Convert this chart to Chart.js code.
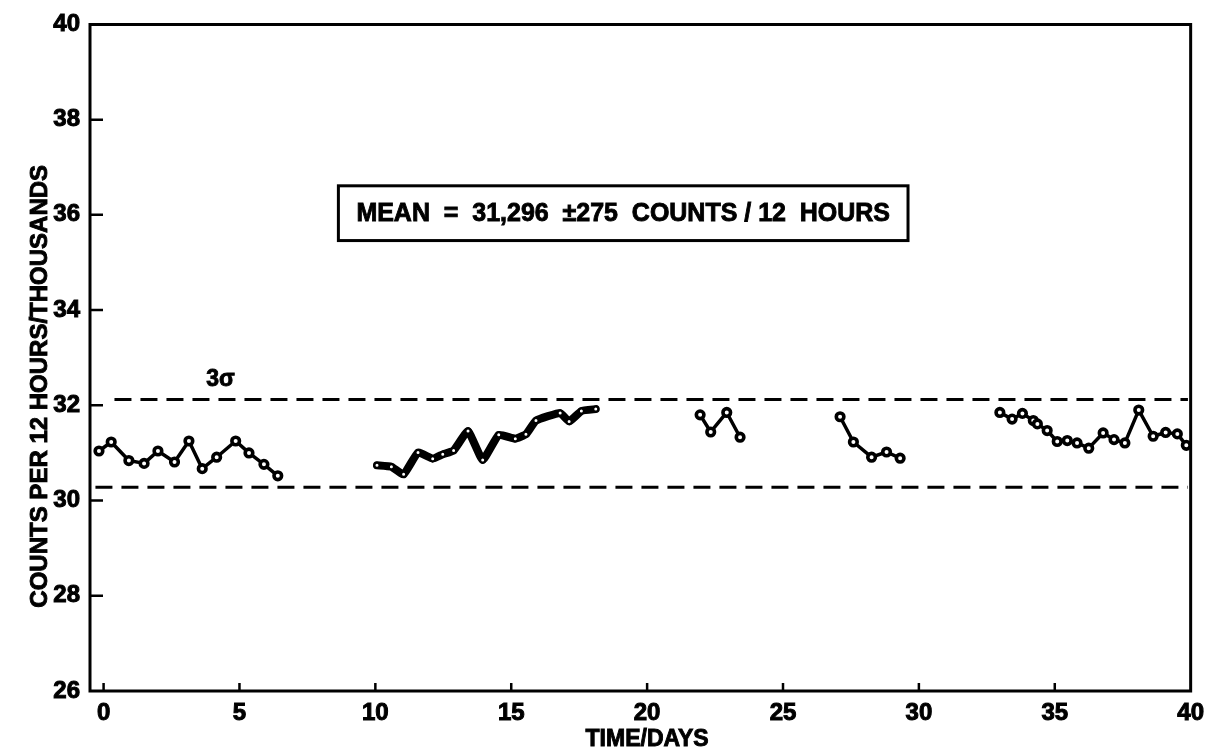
<!DOCTYPE html>
<html>
<head>
<meta charset="utf-8">
<title>Counts per 12 hours</title>
<script src="https://cdn.jsdelivr.net/npm/chart.js@4.4.1/dist/chart.umd.min.js"></script>
<style>
  html, body { margin: 0; padding: 0; background: #fff; }
  #wrap { position: relative; width: 1212px; height: 754px; }
</style>
</head>
<body>
<div id="wrap"><canvas id="chart1"></canvas></div>
<script>
// readings, one point per 12 hours (thousands of counts)
var seg1Days   = [-0.17, 0.28, 0.93, 1.49, 2.0, 2.61, 3.14, 3.63, 4.16, 4.86, 5.35, 5.9, 6.41];
var seg1Counts = [31.04, 31.23, 30.84, 30.78, 31.04, 30.81, 31.25, 30.67, 30.91, 31.25, 31.00, 30.76, 30.52];

var seg2Days   = [10.06, 10.59, 11.04, 11.57, 12.11, 12.48, 12.88, 13.41, 13.95, 14.54, 15.15, 15.54, 15.91, 16.8, 17.13, 17.58, 18.11];
var seg2Counts = [30.74, 30.71, 30.55, 31.01, 30.88, 30.97, 31.05, 31.46, 30.85, 31.38, 31.30, 31.39, 31.68, 31.84, 31.66, 31.88, 31.92];

var seg3Days   = [21.95, 22.34, 22.93, 23.42];
var seg3Counts = [31.80, 31.44, 31.85, 31.33];

var seg4Days   = [27.10, 27.59, 28.26, 28.81, 29.31];
var seg4Counts = [31.76, 31.23, 30.91, 31.02, 30.89];

var seg5Days   = [32.98, 33.43, 33.81, 34.21, 34.36, 34.72, 35.09, 35.46, 35.82, 36.25, 36.78, 37.18, 37.58, 38.09, 38.62, 39.08, 39.51, 39.84];
var seg5Counts = [31.85, 31.71, 31.83, 31.68, 31.61, 31.47, 31.24, 31.26, 31.21, 31.10, 31.42, 31.28, 31.21, 31.90, 31.35, 31.43, 31.40, 31.16];

// 3 sigma control limits
var upperLimit = 32.12;
var lowerLimit = 30.28;
var upperDays  = [0.4, 39.9];
var lowerDays  = [-0.3, 39.9];

var xTicks = [0, 5, 10, 15, 20, 25, 30, 35, 40];
var yTicks = [26, 28, 30, 32, 34, 36, 38, 40];

var xTitle = 'TIME/DAYS';
var yTitle = 'COUNTS PER 12 HOURS/THOUSANDS';
var meanText = 'MEAN  =  31,296  \u00b1275  COUNTS / 12  HOURS';
var noteBox = {x0: 8.64, x1: 29.6, yTop: 36.61, yBottom: 35.46};
var sigmaNote = {x: 4.3, y: 32.54, text: '3\u03c3'};

var FONT = "'Liberation Sans', Arial, Helvetica, sans-serif";

function pts(xs, ys) {
  var out = [];
  for (var i = 0; i < xs.length; i++) out.push({x: xs[i], y: ys[i]});
  return out;
}

function seg(xs, ys, thick) {
  return {
    data: pts(xs, ys),
    borderColor: '#000',
    borderWidth: thick ? 8 : 3.5,
    tension: thick ? 0.12 : 0,
    borderJoinStyle: 'round',
    borderCapStyle: 'round',
    pointRadius: thick ? 2.5 : 3.8,
    pointBorderWidth: thick ? 2 : 3.6,
    pointBackgroundColor: '#fff',
    pointBorderColor: '#000'
  };
}

function limit(xs, y) {
  return {
    data: pts(xs, [y, y]),
    borderColor: '#000',
    borderWidth: 3,
    borderDash: [17, 9],
    pointRadius: 0,
    tension: 0
  };
}

// draw text slightly heavier, like the old lettering
function heavyText(ctx, text, x, y) {
  ctx.fillText(text, x, y);
  ctx.lineWidth = 0.9;
  ctx.strokeText(text, x, y);
}

var frameAndNotes = {
  id: 'frameAndNotes',
  afterDraw: function(chart) {
    var ctx = chart.ctx, a = chart.chartArea;
    var xs = chart.scales.x, ys = chart.scales.y;
    ctx.save();
    ctx.strokeStyle = '#000';
    ctx.fillStyle = '#000';

    // frame
    ctx.lineWidth = 3;
    ctx.beginPath();
    ctx.rect(a.left, a.top, a.right - a.left, a.bottom - a.top);
    ctx.stroke();

    // inward tick marks
    ctx.lineWidth = 2.5;
    ctx.beginPath();
    xTicks.forEach(function(v) {
      if (v === 40) return;
      var px = xs.getPixelForValue(v);
      ctx.moveTo(px, a.bottom); ctx.lineTo(px, a.bottom - 8);
    });
    yTicks.forEach(function(v) {
      if (v === 26 || v === 40) return;
      var py = ys.getPixelForValue(v);
      ctx.moveTo(a.left, py); ctx.lineTo(a.left + 13, py);
    });
    ctx.stroke();

    ctx.textAlign = 'center';
    ctx.textBaseline = 'middle';

    // axis titles
    ctx.font = 'bold 23px ' + FONT;
    heavyText(ctx, xTitle, xs.getPixelForValue(20), 740);
    ctx.save();
    ctx.translate(40, ys.getPixelForValue(32.4));
    ctx.rotate(-Math.PI / 2);
    ctx.font = 'bold 24px ' + FONT;
    heavyText(ctx, yTitle, 0, 0);
    ctx.restore();

    // mean box
    var bl = xs.getPixelForValue(noteBox.x0), br = xs.getPixelForValue(noteBox.x1);
    var bt = ys.getPixelForValue(noteBox.yTop), bb = ys.getPixelForValue(noteBox.yBottom);
    ctx.lineWidth = 3;
    ctx.strokeRect(bl, bt, br - bl, bb - bt);
    ctx.font = 'bold 26px ' + FONT;
    var want = (br - bl) - 36;
    var got = ctx.measureText(meanText).width;
    ctx.save();
    ctx.translate((bl + br) / 2, (bt + bb) / 2 + 1);
    ctx.scale(want / got, 1);
    heavyText(ctx, meanText, 0, 0);
    ctx.restore();

    // 3 sigma label
    ctx.font = 'bold 23px ' + FONT;
    heavyText(ctx, sigmaNote.text, xs.getPixelForValue(sigmaNote.x), ys.getPixelForValue(sigmaNote.y));
    ctx.restore();
  }
};

var tickFont = {family: FONT, size: 24, weight: 'bold'};

new Chart(document.getElementById('chart1').getContext('2d'), {
  type: 'line',
  data: {
    datasets: [
      seg(seg1Days, seg1Counts, false),
      seg(seg2Days, seg2Counts, true),
      seg(seg3Days, seg3Counts, false),
      seg(seg4Days, seg4Counts, false),
      seg(seg5Days, seg5Counts, false),
      limit(upperDays, upperLimit),
      limit(lowerDays, lowerLimit)
    ]
  },
  options: {
    responsive: true,
    maintainAspectRatio: false,
    animation: false,
    layout: {padding: {left: 8, right: 20, top: 21, bottom: 0}},
    plugins: {legend: {display: false}, tooltip: {enabled: false}},
    scales: {
      x: {
        type: 'linear', min: -0.5, max: 40,
        afterBuildTicks: function(s) { s.ticks = xTicks.map(function(v) { return {value: v}; }); },
        afterFit: function(s) { s.height = 63; },
        grid: {display: false, drawTicks: false},
        border: {display: false},
        ticks: {color: '#000', font: tickFont, padding: 8, maxRotation: 0, autoSkip: false,
                textStrokeColor: '#000', textStrokeWidth: 1}
      },
      y: {
        type: 'linear', min: 26, max: 40,
        afterBuildTicks: function(s) { s.ticks = yTicks.map(function(v) { return {value: v}; }); },
        afterFit: function(s) { s.width = 82; },
        grid: {display: false, drawTicks: false},
        border: {display: false},
        ticks: {color: '#000', font: tickFont, padding: 10, autoSkip: false,
                textStrokeColor: '#000', textStrokeWidth: 1}
      }
    }
  },
  plugins: [frameAndNotes]
});
</script>
</body>
</html>
